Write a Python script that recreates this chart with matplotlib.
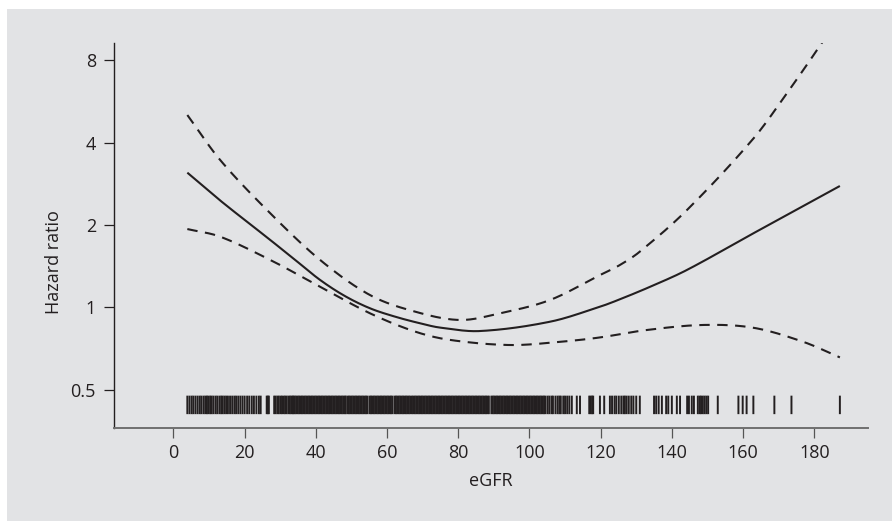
import matplotlib
matplotlib.use("Agg")
import matplotlib.pyplot as plt
from matplotlib.patches import Rectangle
import matplotlib.ticker as mticker
import numpy as np

plt.rcParams['font.family'] = ['Open Sans', 'DejaVu Sans']

# ---- data ----
fit_x = [3.9, 13.1, 27.2, 34.2, 41.2, 48.2, 55.2, 62.3, 69.3, 74.9, 86.1,
         105.8, 119.8, 125.4, 133.9, 144.2, 162.9, 187.2]
fit_hr = [3.108, 2.46, 1.763, 1.490, 1.259, 1.099, 0.992, 0.924, 0.874, 0.843,
          0.819, 0.886, 1.005, 1.070, 1.189, 1.369, 1.865, 2.778]

upper_x = [3.9, 13.1, 27.2, 41.2, 55.2, 67.9, 80.5, 91.7, 105.8, 119.8, 125.4,
           131.0, 144.2, 162.9, 172.3, 182.1, 187.2]
upper_hr = [5.05, 3.46, 2.207, 1.490, 1.109, 0.964, 0.899, 0.951, 1.064, 1.312,
            1.428, 1.598, 2.266, 4.14, 6.06, 9.25, 11.7]

lower_x = [3.9, 13.1, 27.2, 41.2, 55.2, 67.9, 77.7, 94.5, 108.6, 119.8, 132.9,
           148.8, 162.9, 176.9, 187.2]
lower_hr = [1.933, 1.813, 1.490, 1.189, 0.951, 0.815, 0.760, 0.728, 0.748, 0.776,
            0.826, 0.862, 0.842, 0.748, 0.656]

rug_egfr = [
    3.9, 4.5, 5.1, 5.6, 6.2, 6.8, 7.4, 7.9, 8.5, 9.0, 9.4, 9.8, 10.3, 10.7, 11.2,
    11.8, 12.3, 12.9, 13.4, 13.8, 14.3, 14.8, 15.3, 15.9, 16.5, 17.1, 17.6, 18.2,
    18.8, 19.4, 20.0, 20.7, 21.3, 22.0, 22.6, 23.3, 24.0, 24.5,
    26.2, 26.5, 26.8,
    28.3, 28.7, 29.2, 29.6, 30.1, 30.5, 31.0, 31.4, 31.8, 32.3, 32.7, 33.1, 33.5,
    33.7, 34.1, 34.5, 34.9, 35.3, 35.7, 36.1, 36.5, 36.9, 37.3, 37.7, 38.1, 38.5,
    38.9, 39.3, 39.7, 40.1, 40.5, 40.9, 41.3, 41.7, 42.1, 42.5, 42.9, 43.3, 43.7,
    44.1, 44.5, 44.9, 45.3, 45.7, 46.1, 46.5, 46.9, 47.3, 47.7, 48.1, 48.4, 48.9,
    49.3, 49.7, 50.1, 50.5, 50.9, 51.3, 51.7, 52.1, 52.5, 52.9, 53.3, 53.7, 54.1,
    54.5, 55.1, 55.5, 55.9, 56.3, 56.7, 57.1, 57.5, 57.9, 58.3, 58.7, 59.1, 59.5,
    59.9, 60.3, 60.7, 61.1, 61.5, 62.1, 62.5, 62.9, 63.3, 63.7, 64.1, 64.5, 64.9,
    65.3, 65.7, 66.1, 66.5, 67.0, 67.4, 67.8, 68.2, 68.6, 69.0, 69.4, 69.8, 70.2,
    70.6, 71.0, 71.4, 71.8, 72.2, 72.6, 73.0, 73.4, 73.8, 74.2, 74.6, 75.0, 75.4,
    75.8, 76.2, 76.6, 77.0, 77.4, 77.8, 78.2, 78.6, 79.0, 79.4, 79.8, 80.2, 80.6,
    81.0, 81.4, 81.8, 82.2, 82.6, 83.0, 83.4, 83.8, 84.2, 84.6, 85.0, 85.4, 85.8,
    86.2, 86.6, 87.0, 87.4, 87.8, 88.2, 88.6, 89.3, 89.7, 90.1, 90.5, 90.9, 91.3,
    91.7, 92.1, 92.5, 92.9, 93.3, 93.7, 94.1, 94.5, 94.9, 95.3, 95.7, 96.1, 96.5,
    96.9, 97.3, 97.7, 98.1, 98.5, 98.9, 99.3, 99.7, 100.1, 100.5, 100.9, 101.3,
    101.7, 102.1, 102.5, 102.9, 103.3, 103.7, 104.1, 104.5,
    105.1, 105.6, 106.2, 106.6, 107.3, 107.9, 108.4, 108.8, 109.5,
    110.0, 110.6, 111.2, 111.9, 113.3, 114.2,
    116.8, 117.2, 117.6, 117.9, 119.8, 121.0,
    122.6, 123.2, 123.9, 124.4, 125.1, 125.8, 126.4, 126.8, 127.3, 127.9, 128.6,
    129.2, 130.0, 131.0,
    135.0, 135.6, 136.3, 137.2, 138.4, 139.0, 140.0, 141.4, 142.3,
    144.3, 144.8, 145.6, 146.2, 147.3, 147.8, 148.2, 148.7, 149.2, 149.7, 150.2,
    152.9, 158.7, 159.9, 161.0, 162.9, 168.8, 173.6, 187.2,
]

x_ticks = [0, 20, 40, 60, 80, 100, 120, 140, 160, 180]
y_ticks = [0.5, 1, 2, 4, 8]
y_tick_labels = ["0.5", "1", "2", "4", "8"]


def smooth_path(xs, hrs, n=400):
    """Render the read points as a smooth cubic Hermite curve (log scale)."""
    x = np.asarray(xs, float)
    y = np.log2(np.asarray(hrs, float))
    m = np.empty_like(y)
    m[1:-1] = (y[2:] - y[:-2]) / (x[2:] - x[:-2])
    m[0] = (y[1] - y[0]) / (x[1] - x[0])
    m[-1] = (y[-1] - y[-2]) / (x[-1] - x[-2])
    xx = np.linspace(x[0], x[-1], n)
    idx = np.clip(np.searchsorted(x, xx) - 1, 0, len(x) - 2)
    h = x[idx + 1] - x[idx]
    t = (xx - x[idx]) / h
    h00 = 2 * t**3 - 3 * t**2 + 1
    h10 = t**3 - 2 * t**2 + t
    h01 = -2 * t**3 + 3 * t**2
    h11 = t**3 - t**2
    yy = h00 * y[idx] + h10 * h * m[idx] + h01 * y[idx + 1] + h11 * h * m[idx + 1]
    return xx, 2.0 ** yy


# ---- figure ----
W, H = 892, 521
fig = plt.figure(figsize=(W / 100, H / 100), dpi=100, facecolor="white")
bg = "#e2e3e5"
fig.patches.append(Rectangle((7 / W, 0), 1 - 7 / W, 1 - 9 / H, transform=fig.transFigure,
                             facecolor=bg, edgecolor="none", zorder=-10))

ax = fig.add_axes([114 / W, 1 - 428 / H, (868 - 114) / W, (428 - 43) / H])
ax.set_facecolor("none")

ink = "#231f20"
ax.plot(*smooth_path(fit_x, fit_hr), color=ink, lw=1.5, solid_capstyle="butt")
ax.plot(*smooth_path(upper_x, upper_hr), color=ink, lw=1.5, linestyle=(0, (5, 3.6)))
ax.plot(*smooth_path(lower_x, lower_hr), color=ink, lw=1.5, linestyle=(0, (5, 3.6)))

ax.vlines(rug_egfr, 0.036, 0.084, transform=ax.get_xaxis_transform(),
          color=ink, lw=1.4, snap=False)

ax.set_yscale("log", base=2)
ax.set_xlim(-16.7, 195.1)
ax.set_ylim(0.362, 9.26)

ax.yaxis.set_major_locator(mticker.FixedLocator(y_ticks))
ax.yaxis.set_major_formatter(mticker.FixedFormatter(y_tick_labels))
ax.yaxis.set_minor_locator(mticker.NullLocator())
ax.set_xticks(x_ticks)

for s in ["top", "right"]:
    ax.spines[s].set_visible(False)
ax.spines["left"].set_color(ink)
ax.spines["left"].set_linewidth(1.0)
ax.spines["bottom"].set_color("#6f6f6f")
ax.spines["bottom"].set_linewidth(1.4)

ax.tick_params(axis="y", length=7, width=0.9, color=ink, pad=6,
               labelsize=13, labelcolor=ink)
ax.tick_params(axis="x", length=7, width=0.9, color="#555555", pad=4.5,
               labelsize=13, labelcolor=ink)

ax.set_xlabel("eGFR", fontsize=13, color=ink)
ax.set_ylabel("Hazard ratio", fontsize=13, color=ink)
ax.xaxis.set_label_coords(0.5, -0.115)
ax.yaxis.set_label_coords(-0.068, 0.43)

fig.savefig("out.png", dpi=100, facecolor="white")
